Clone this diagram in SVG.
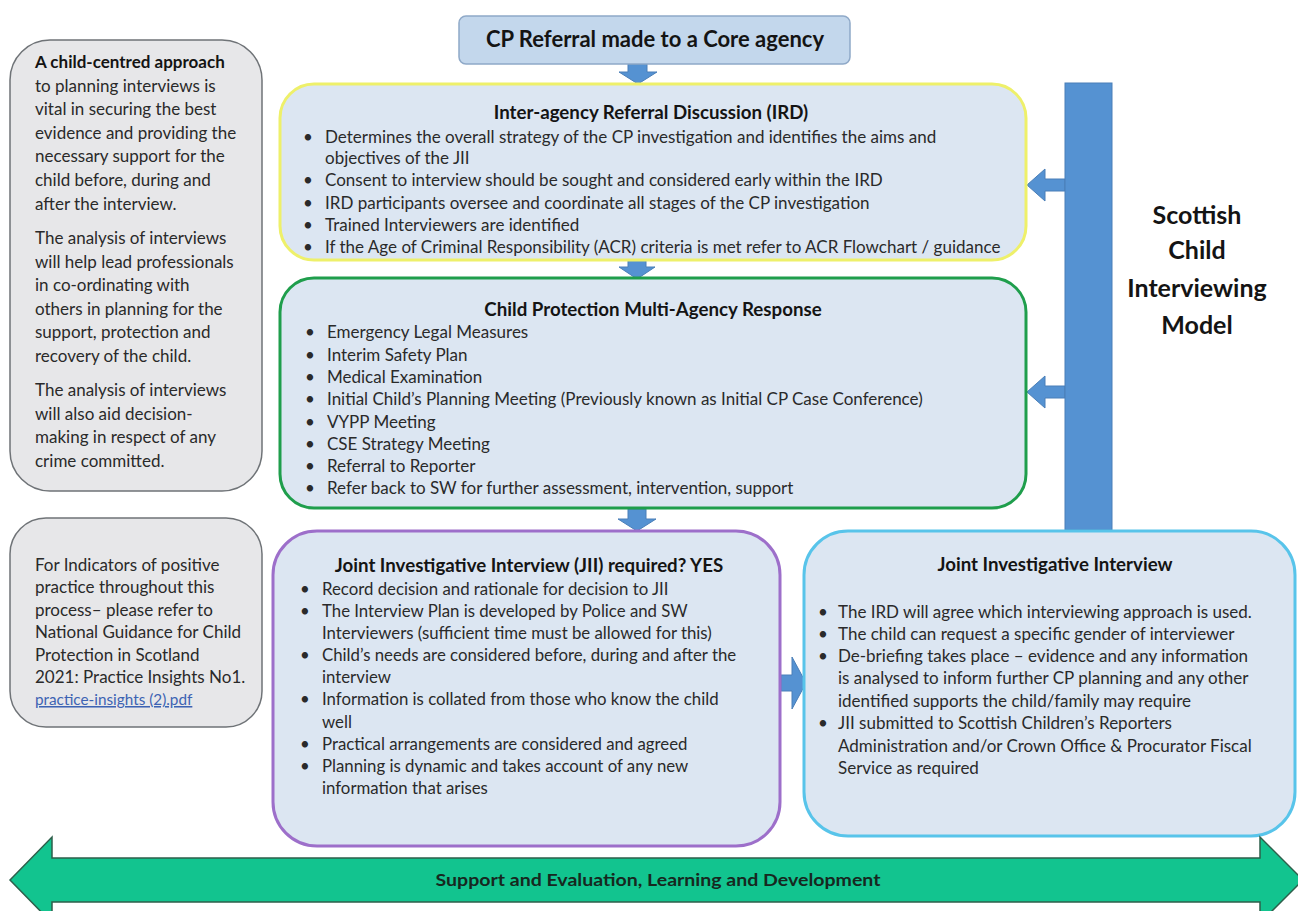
<svg xmlns="http://www.w3.org/2000/svg" width="1298" height="911" viewBox="0 0 1298 911">
<defs>
<style>
.t{font-family:Lato,"Liberation Sans",sans-serif;font-size:17px;fill:#2a2a2a}
.j{font-size:16.8px}
.b{font-weight:bold;fill:#141414}
.h{font-size:18.7px}
.c{text-anchor:middle}
.side{fill:#e7e7e9;stroke:#6f7377;stroke-width:1.5}
.box{fill:#dce6f2;stroke-width:3}
.arr{fill:#5592d2;stroke:#4a7fb8;stroke-width:1}
.lnk{font-size:15.3px;fill:#3d63b3;text-decoration:underline}
</style>
</defs>
<rect width="1298" height="911" fill="#ffffff"/>

<g id="connectors">
<path class="arr" d="M628,64 H647 V72 H657 L638,84 L619,72 H628 Z"/>
<path class="arr" d="M628,260 H646 V267 H655 L637,279 L619,267 H628 Z"/>
<path class="arr" d="M628,509 H646 V519 H656 L637,531 L618,519 H628 Z"/>
<path class="arr" d="M1065,179 H1045 V169 L1027,185 L1045,201 V191 H1065 Z"/>
<path class="arr" d="M1065,386 H1045 V376 L1027,392 L1045,408 V398 H1065 Z"/>
<path class="arr" d="M781,675 H792 V657 L806,683 L792,709 V691 H781 Z"/>
</g>

<g id="bar">
<rect x="1065" y="83" width="47" height="447" fill="#5592d2" stroke="#4a7fb8" stroke-width="1"/>
</g>

<g id="model-label">
<text class="t b c" x="1197" y="224" style="font-size:25px">Scottish</text>
<text class="t b c" x="1197" y="259" style="font-size:25px">Child</text>
<text class="t b c" x="1197" y="297" style="font-size:25px">Interviewing</text>
<text class="t b c" x="1197" y="334" style="font-size:25px">Model</text>
</g>

<g id="side-note-1">
<rect class="side" x="10" y="40" width="252" height="451" rx="40"/>
<text class="t b" x="35" y="68">A child-centred approach</text>
<text class="t" x="35" y="92">to planning interviews is</text>
<text class="t" x="35" y="115">vital in securing the best</text>
<text class="t" x="35" y="139">evidence and providing the</text>
<text class="t" x="35" y="162">necessary support for the</text>
<text class="t" x="35" y="186">child before, during and</text>
<text class="t" x="35" y="210">after the interview.</text>
<text class="t" x="35" y="244">The analysis of interviews</text>
<text class="t" x="35" y="268">will help lead professionals</text>
<text class="t" x="35" y="291">in co-ordinating with</text>
<text class="t" x="35" y="315">others in planning for the</text>
<text class="t" x="35" y="338">support, protection and</text>
<text class="t" x="35" y="362">recovery of the child.</text>
<text class="t" x="35" y="396">The analysis of interviews</text>
<text class="t" x="35" y="420">will also aid decision-</text>
<text class="t" x="35" y="443">making in respect of any</text>
<text class="t" x="35" y="467">crime committed.</text>
</g>

<g id="side-note-2">
<rect class="side" x="10" y="518" width="252" height="209" rx="36"/>
<text class="t" x="35" y="571">For Indicators of positive</text>
<text class="t" x="35" y="593">practice throughout this</text>
<text class="t" x="35" y="616">process– please refer to</text>
<text class="t" x="35" y="638">National Guidance for Child</text>
<text class="t" x="35" y="661">Protection in Scotland</text>
<text class="t" x="35" y="683">2021: Practice Insights No1.</text>
<text class="t lnk" x="35" y="705">practice-insights (2).pdf</text>
</g>

<g id="cp-referral">
<rect x="459" y="16" width="391" height="48" rx="7" fill="#c3d7ec" stroke="#8fa9c8" stroke-width="1.5"/>
<text class="t b c" x="655" y="47" style="font-size:22px">CP Referral made to a Core agency</text>
</g>

<g id="ird">
<rect class="box" x="280" y="84" width="746" height="176" rx="34" stroke="#eef06a"/>
<text class="t b c h" x="651" y="119">Inter-agency Referral Discussion (IRD)</text>
<text class="t" x="303" y="143">•</text><text class="t" x="325" y="143">Determines the overall strategy of the CP investigation and identifies the aims and</text>
<text class="t" x="325" y="164">objectives of the JII</text>
<text class="t" x="303" y="186">•</text><text class="t" x="325" y="186">Consent to interview should be sought and considered early within the IRD</text>
<text class="t" x="303" y="209">•</text><text class="t" x="325" y="209">IRD participants oversee and coordinate all stages of the CP investigation</text>
<text class="t" x="303" y="231">•</text><text class="t" x="325" y="231">Trained Interviewers are identified</text>
<text class="t" x="303" y="253">•</text><text class="t" x="325" y="253">If the Age of Criminal Responsibility (ACR) criteria is met refer to ACR Flowchart / guidance</text>
</g>

<g id="cp-response">
<rect class="box" x="280" y="278" width="746" height="230" rx="34" stroke="#1f9e4c"/>
<text class="t b c h" x="653" y="316">Child Protection Multi-Agency Response</text>
<text class="t" x="305" y="338">•</text><text class="t" x="327" y="338">Emergency Legal Measures</text>
<text class="t" x="305" y="361">•</text><text class="t" x="327" y="361">Interim Safety Plan</text>
<text class="t" x="305" y="383">•</text><text class="t" x="327" y="383">Medical Examination</text>
<text class="t" x="305" y="405">•</text><text class="t" x="327" y="405">Initial Child’s Planning Meeting (Previously known as Initial CP Case Conference)</text>
<text class="t" x="305" y="428">•</text><text class="t" x="327" y="428">VYPP Meeting</text>
<text class="t" x="305" y="450">•</text><text class="t" x="327" y="450">CSE Strategy Meeting</text>
<text class="t" x="305" y="472">•</text><text class="t" x="327" y="472">Referral to Reporter</text>
<text class="t" x="305" y="494">•</text><text class="t" x="327" y="494">Refer back to SW for further assessment, intervention, support</text>
</g>

<g id="jii-required">
<rect class="box" x="273" y="531" width="507" height="315" rx="44" stroke="#9d6fca"/>
<text class="t b c h" x="529" y="572">Joint Investigative Interview (JII) required? YES</text>
<text class="t j" x="300" y="595">•</text><text class="t j" x="322" y="595">Record decision and rationale for decision to JII</text>
<text class="t j" x="300" y="617">•</text><text class="t j" x="322" y="617">The Interview Plan is developed by Police and SW</text>
<text class="t j" x="322" y="639">Interviewers (sufficient time must be allowed for this)</text>
<text class="t j" x="300" y="661">•</text><text class="t j" x="322" y="661">Child’s needs are considered before, during and after the</text>
<text class="t j" x="322" y="683">interview</text>
<text class="t j" x="300" y="705">•</text><text class="t j" x="322" y="705">Information is collated from those who know the child</text>
<text class="t j" x="322" y="728">well</text>
<text class="t j" x="300" y="750">•</text><text class="t j" x="322" y="750">Practical arrangements are considered and agreed</text>
<text class="t j" x="300" y="772">•</text><text class="t j" x="322" y="772">Planning is dynamic and takes account of any new</text>
<text class="t j" x="322" y="794">information that arises</text>
</g>

<g id="jii">
<rect class="box" x="804" y="531" width="491" height="305" rx="44" stroke="#58c4ea"/>
<text class="t b c h" x="1055" y="571">Joint Investigative Interview</text>
<text class="t" x="818" y="618">•</text><text class="t" x="838" y="618">The IRD will agree which interviewing  approach is used.</text>
<text class="t" x="818" y="640">•</text><text class="t" x="838" y="640">The child can request a specific gender of interviewer</text>
<text class="t" x="818" y="662">•</text><text class="t" x="838" y="662">De-briefing takes place – evidence and any information</text>
<text class="t" x="838" y="684">is analysed to inform further CP planning and any other</text>
<text class="t" x="838" y="707">identified supports the child/family may require</text>
<text class="t" x="818" y="729">•</text><text class="t" x="838" y="729">JII submitted to Scottish Children’s Reporters</text>
<text class="t" x="838" y="752">Administration and/or Crown Office &amp; Procurator Fiscal</text>
<text class="t" x="838" y="774">Service as required</text>
</g>

<g id="support-arrow">
<path d="M10,880 L52,837 V858 H1260 V837 L1303,880 L1260,923 V902 H52 V923 Z" fill="#12c48f" stroke="#2e5f4b" stroke-width="1.5"/>
<text class="t b c" x="658" y="886" style="font-size:17px;fill:#17281f" textLength="445" lengthAdjust="spacingAndGlyphs">Support and Evaluation, Learning and Development</text>
</g>
</svg>
